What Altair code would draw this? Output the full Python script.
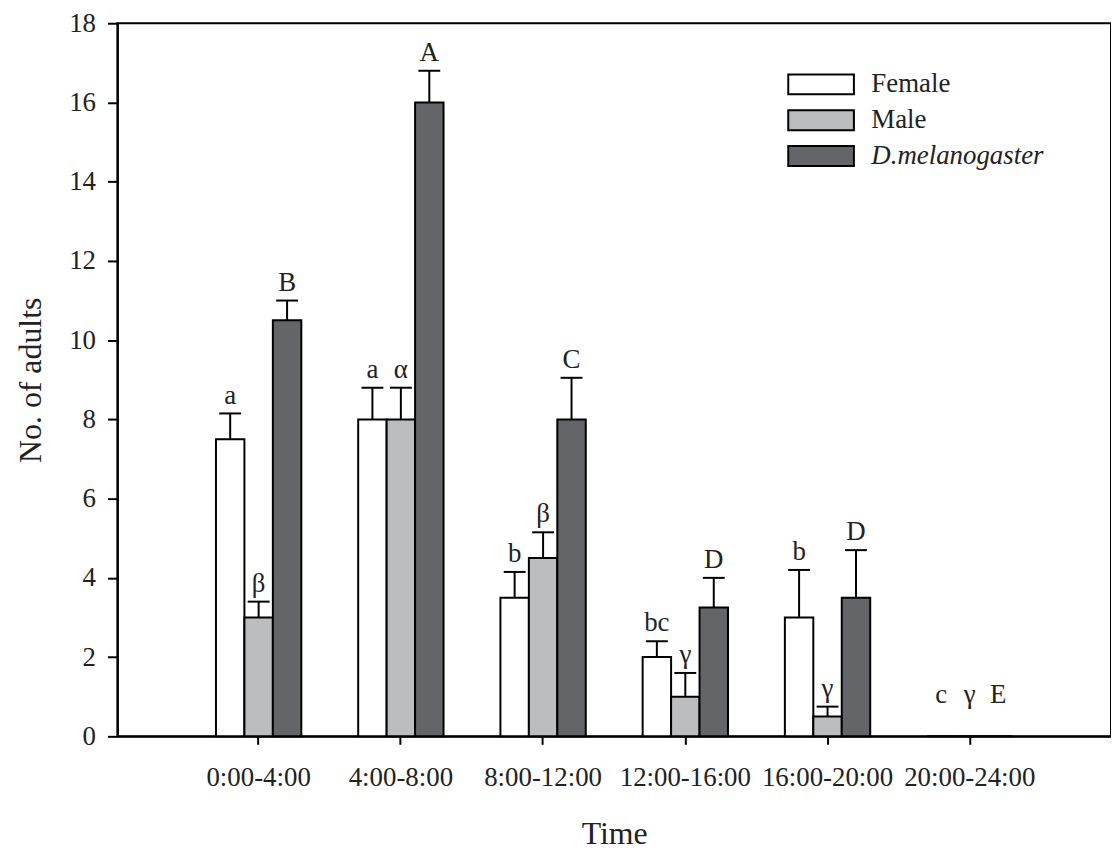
import altair as alt
import pandas as pd

times = ["0:00-4:00", "4:00-8:00", "8:00-12:00", "12:00-16:00", "16:00-20:00", "20:00-24:00"]
groups = ["Female", "Male", "D.melanogaster"]
colors = ["#ffffff", "#bcbdbf", "#646569"]

female = [7.5, 8.0, 3.5, 2.0, 3.0, 0.0]
female_err = [0.65, 0.8, 0.65, 0.4, 1.2, 0.0]
male = [3.0, 8.0, 4.5, 1.0, 0.5, 0.0]
male_err = [0.4, 0.8, 0.65, 0.6, 0.25, 0.0]
dmel = [10.5, 16.0, 8.0, 3.25, 3.5, 0.0]
dmel_err = [0.5, 0.8, 1.05, 0.75, 1.2, 0.0]

female_letters = ["a", "a", "b", "bc", "b", "c"]
male_letters = ["β", "α", "β", "γ", "γ", "γ"]
dmel_letters = ["B", "A", "C", "D", "D", "E"]

y_ticks = [0, 2, 4, 6, 8, 10, 12, 14, 16, 18]
label_floor = 0.6

rows = []
for g, vals, errs, lets in [
    ("Female", female, female_err, female_letters),
    ("Male", male, male_err, male_letters),
    ("D.melanogaster", dmel, dmel_err, dmel_letters),
]:
    for t, v, e, l in zip(times, vals, errs, lets):
        rows.append({"time": t, "group": g, "value": v, "cap": v + e,
                     "err": e, "letter": l, "label_y": max(v + e, label_floor)})
df = pd.DataFrame(rows)

FONT = "Liberation Serif"

x_enc = alt.X("time:N", sort=times,
              scale=alt.Scale(paddingInner=0.4, paddingOuter=0.693),
              axis=alt.Axis(title="Time", labelAngle=0, tickSize=8, labelPadding=20,
                            titlePadding=29))
xoff = alt.XOffset("group:N", sort=groups,
                   scale=alt.Scale(domain=groups, paddingInner=0, paddingOuter=0))
y_scale = alt.Scale(domain=[0, 18], nice=False)

base = alt.Chart(df)

bars = base.mark_bar(stroke="black", strokeWidth=2).encode(
    x=x_enc,
    xOffset=xoff,
    y=alt.Y("value:Q", scale=y_scale,
            axis=alt.Axis(title="No. of adults", values=y_ticks, grid=False,
                          tickSize=10, labelPadding=12, titlePadding=21)),
    color=alt.Color("group:N", sort=groups,
                    scale=alt.Scale(domain=groups, range=colors),
                    legend=alt.Legend(
                        title=None, orient="none", legendX=694, legendY=48,
                        symbolType="M-3.3,-1L3.3,-1L3.3,1L-3.3,1Z",
                        symbolSize=400, symbolStrokeColor="black",
                        symbolStrokeWidth=2, symbolOpacity=1,
                        labelFontSize=27, labelFont=FONT, labelColor="#222",
                        labelOffset=37, rowPadding=7, padding=0, labelLimit=0,
                        labelFontStyle=alt.ExprRef(
                            "datum.label == 'D.melanogaster' ? 'italic' : 'normal'"),
                    )),
)

err_df = base.transform_filter("datum.err > 0")

rules = err_df.mark_rule(color="black", strokeWidth=2).encode(
    x=alt.X("time:N", sort=times), xOffset=xoff,
    y=alt.Y("value:Q", scale=y_scale), y2="cap:Q",
)

caps = err_df.mark_tick(color="black", size=22, thickness=2, opacity=1).encode(
    x=alt.X("time:N", sort=times), xOffset=xoff,
    y=alt.Y("cap:Q", scale=y_scale),
)

labels = base.mark_text(font=FONT, fontSize=27, color="#222", baseline="alphabetic",
                        dy=-10).encode(
    x=alt.X("time:N", sort=times), xOffset=xoff,
    y=alt.Y("label_y:Q", scale=y_scale),
    text="letter:N",
)

chart = alt.layer(bars, rules, caps, labels).properties(
    width=999, height=717,
    autosize=alt.AutoSizeParams(type="none"),
    padding={"left": 110, "top": 13, "right": 0, "bottom": 116},
).configure(
    font=FONT,
).configure_view(
    stroke="black", strokeWidth=2,
).configure_axis(
    labelFont=FONT, labelFontSize=27, labelColor="#222",
    titleFont=FONT, titleFontSize=32, titleFontWeight="normal", titleColor="#222",
    domainColor="black", domainWidth=2, tickColor="black", tickWidth=2,
)

chart.save("out.html", embed_options={"renderer": "svg", "actions": False})
